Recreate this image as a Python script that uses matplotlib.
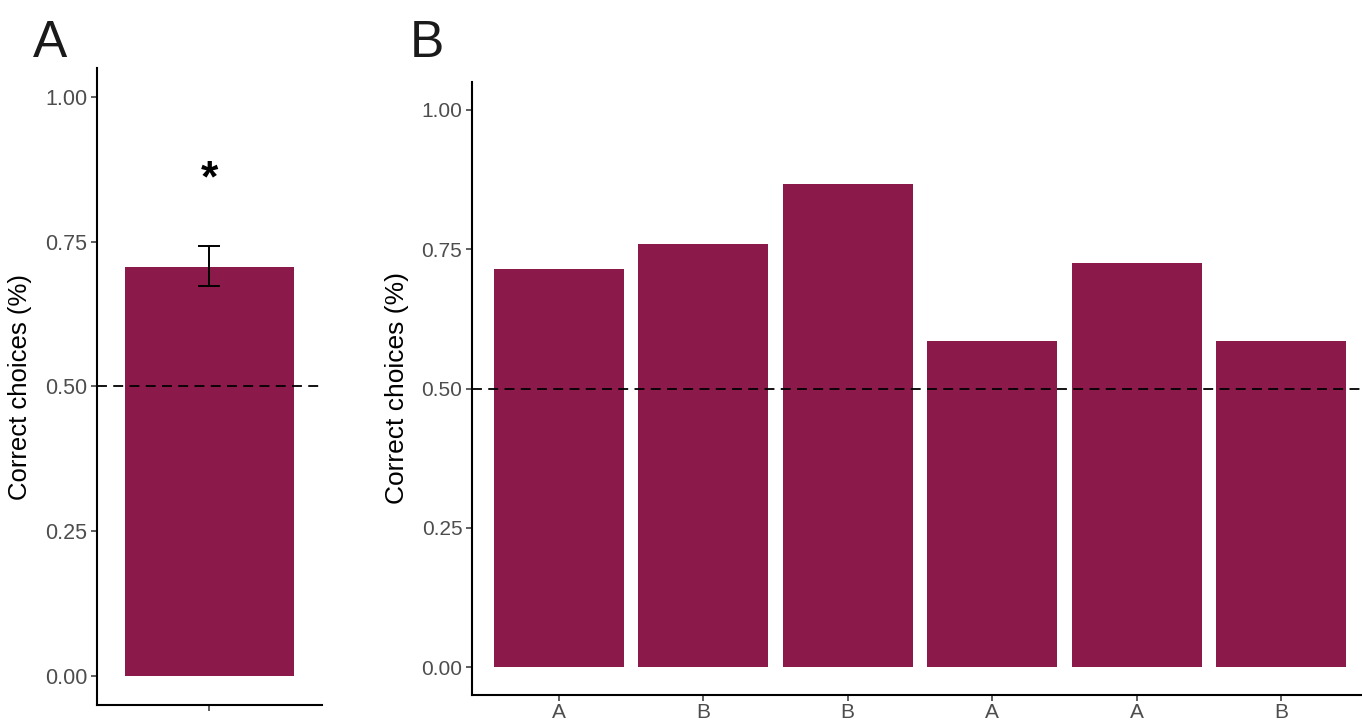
#!/usr/bin/env python3

import numpy as np
import matplotlib
matplotlib.use("Agg")
import matplotlib.pyplot as plt

plt.rcParams['font.family'] = ['Liberation Sans', 'DejaVu Sans']

# panel A: overall accuracy
mean_a = 0.707
err_low_a = 0.674
err_high_a = 0.743

# panel B: accuracy per block
labels_b = ["A", "B", "B", "A", "A", "B"]
acc_b = [0.714, 0.759, 0.867, 0.585, 0.725, 0.585]

yticks = [0.00, 0.25, 0.50, 0.75, 1.00]
chance = 0.5

bar_col = "#8B1A4A"
W, H = 1362, 723

fig = plt.figure(figsize=(W / 100, H / 100), dpi=100)

def box(l, r, t, b):
    return [l / W, (H - b) / H, (r - l) / W, (b - t) / H]

def style(ax, tick_fs, lab_fs):
    for s in ["top", "right"]:
        ax.spines[s].set_visible(False)
    for s in ["left", "bottom"]:
        ax.spines[s].set_linewidth(1.5)
    ax.set_ylim(-0.05, 1.05)
    ax.set_yticks(yticks)
    ax.set_yticklabels(["%.2f" % v for v in yticks])
    ax.tick_params(axis="both", length=4, width=1.1, color="#333333",
                   labelcolor="#4D4D4D", labelsize=tick_fs, pad=3)
    ax.tick_params(axis="x", pad=2)
    ax.set_ylabel("Correct choices (%)", fontsize=lab_fs, labelpad=9)
    ax.axhline(chance, color="black", lw=1.3, dashes=(5.5, 3.5), zorder=3)

# A
ax1 = fig.add_axes(box(97, 322, 68, 705))
ax1.bar([1], [mean_a], width=0.9, color=bar_col, zorder=2)
ax1.errorbar([1], [mean_a], yerr=[[mean_a - err_low_a], [err_high_a - mean_a]],
             fmt="none", ecolor="black", elinewidth=1.4, capsize=8, capthick=1.4, zorder=4)
ax1.text(1, 0.857, "*", ha="center", va="center", fontsize=32, fontweight="bold")
ax1.set_xlim(0.4, 1.6)
ax1.set_xticks([1])
ax1.set_xticklabels([""])
style(ax1, 15.5, 18.5)

# B
ax2 = fig.add_axes(box(472, 1368, 82, 695))
x = np.arange(1, len(acc_b) + 1)
ax2.bar(x, acc_b, width=0.9, color=bar_col, zorder=2)
ax2.set_xlim(0.4, len(acc_b) + 0.6)
ax2.set_xticks(x)
ax2.set_xticklabels(labels_b)
style(ax2, 15, 19)

fig.text(33 / W, 1 - 57 / H, "A", fontsize=37, color="#1a1a1a", va="baseline")
fig.text(410 / W, 1 - 57 / H, "B", fontsize=37, color="#1a1a1a", va="baseline")

fig.savefig("out.png", dpi=100)
